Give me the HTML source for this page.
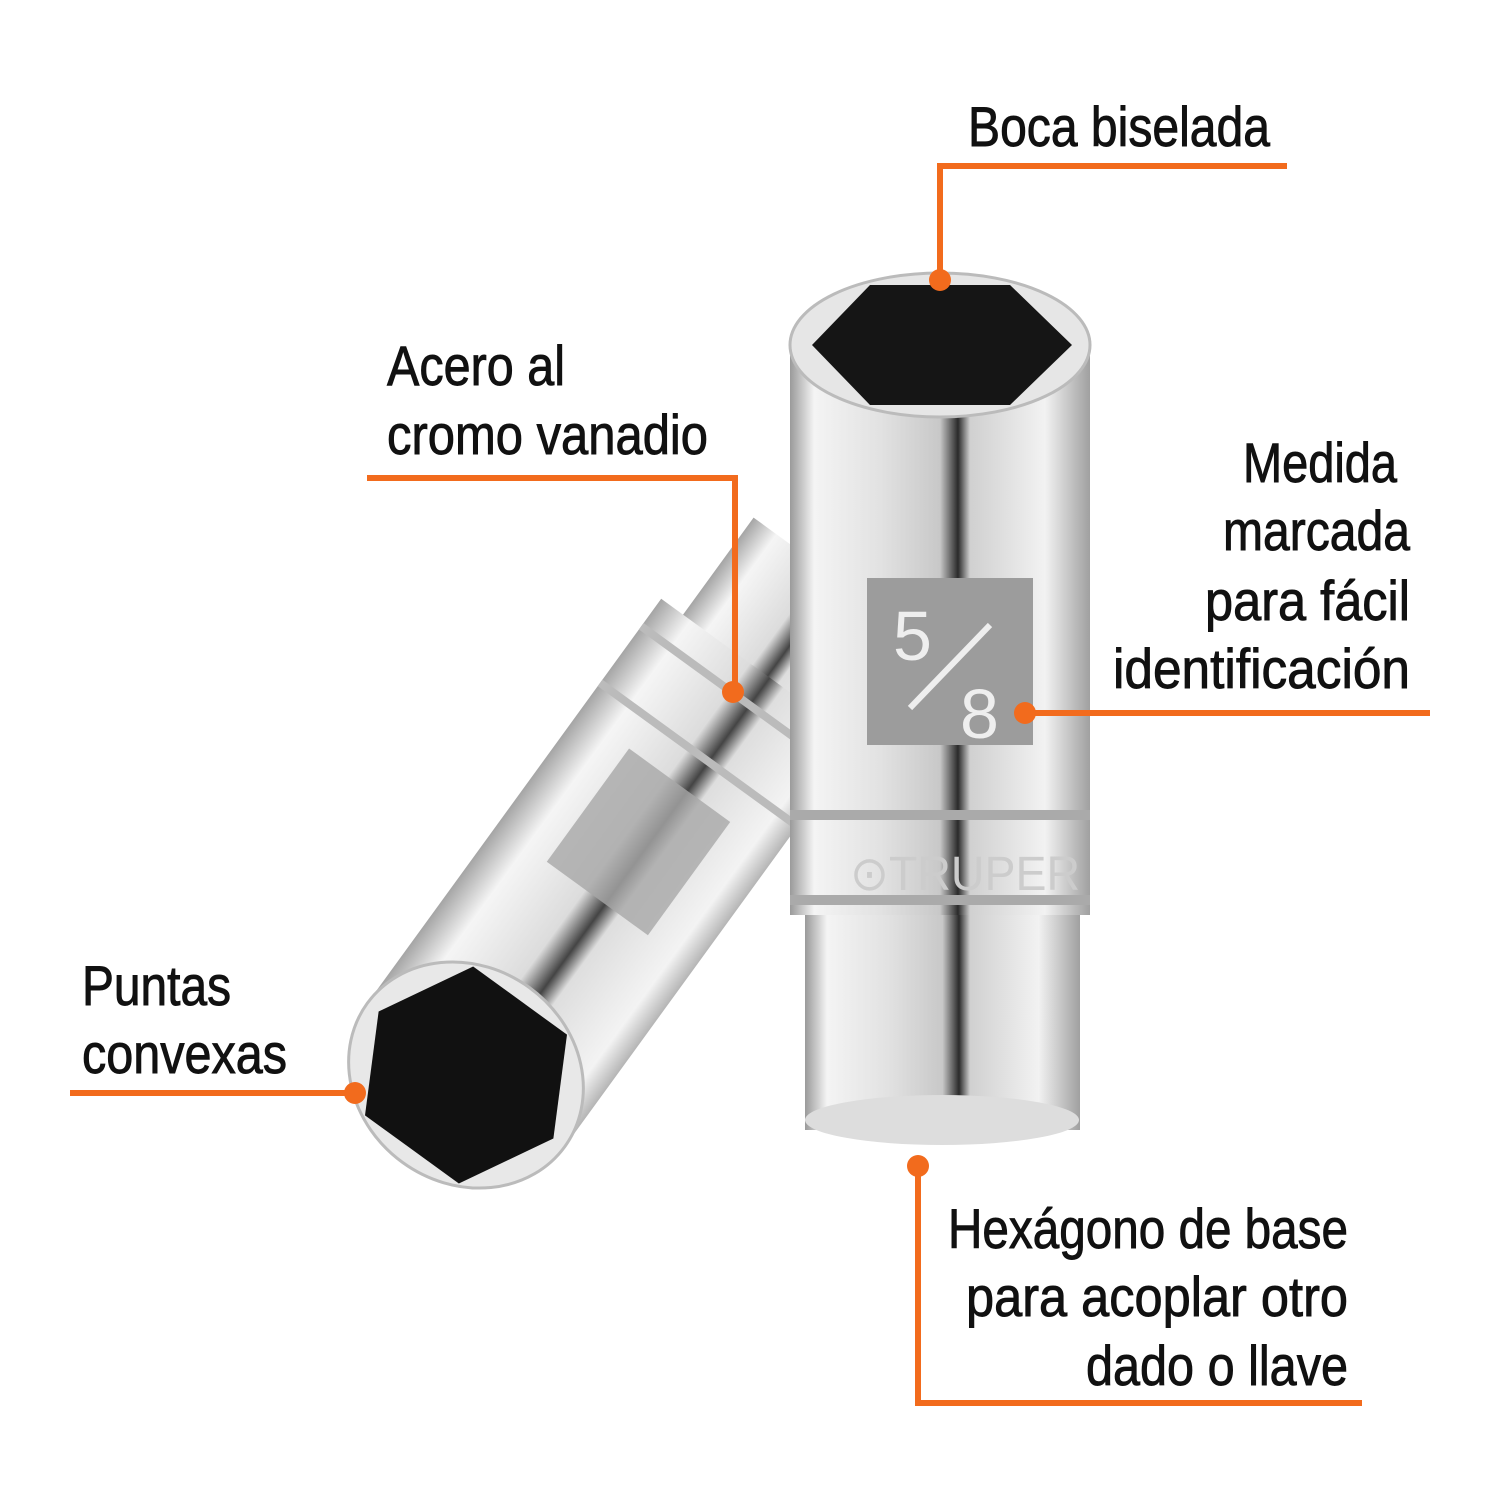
<!DOCTYPE html>
<html><head><meta charset="utf-8"><style>
body{margin:0;background:#fff;width:1500px;height:1500px;overflow:hidden}
svg{position:absolute;left:0;top:0}
text.l{font-family:"Liberation Sans",sans-serif;font-size:56px;fill:#111;stroke:#111;stroke-width:0.9}
</style></head><body>
<svg width="1500" height="1500" viewBox="0 0 1500 1500">
<defs>
<linearGradient id="chr" x1="0" x2="1" y1="0" y2="0">
<stop offset="0" stop-color="#9a9a9a"/><stop offset="0.08" stop-color="#f4f4f4"/>
<stop offset="0.3" stop-color="#e2e2e2"/><stop offset="0.5" stop-color="#c8c8c8"/>
<stop offset="0.56" stop-color="#2a2a2a"/><stop offset="0.6" stop-color="#d0d0d0"/>
<stop offset="0.85" stop-color="#f2f2f2"/><stop offset="1" stop-color="#a0a0a0"/>
</linearGradient>
<linearGradient id="chr2" x1="0" x2="1" y1="0" y2="0">
<stop offset="0" stop-color="#a5a5a5"/><stop offset="0.15" stop-color="#f5f5f5"/>
<stop offset="0.45" stop-color="#dcdcdc"/><stop offset="0.55" stop-color="#444"/>
<stop offset="0.62" stop-color="#dedede"/><stop offset="0.9" stop-color="#f3f3f3"/><stop offset="1" stop-color="#b5b5b5"/>
</linearGradient>
</defs>
<g transform="translate(466,1075) rotate(36)">
<rect x="-95" y="-620" width="190" height="200" fill="url(#chr2)"/>
<rect x="-122" y="-500" width="244" height="500" fill="url(#chr2)"/>
<rect x="-122" y="-470" width="244" height="8" fill="#bbb"/>
<rect x="-122" y="-400" width="244" height="8" fill="#bbb"/>
<rect x="-60" y="-360" width="125" height="140" fill="#a8a8a8" opacity="0.8"/>
<ellipse cx="0" cy="0" rx="122" ry="108" fill="#e8e8e8" stroke="#bbb" stroke-width="3"/>
<polygon points="-108,0 -58,-92 58,-92 108,0 58,92 -58,92" fill="#111"/>
</g>
<rect x="805" y="900" width="275" height="230" fill="url(#chr)"/>
<ellipse cx="942" cy="1120" rx="137" ry="25" fill="#ddd"/>
<rect x="790" y="345" width="300" height="570" fill="url(#chr)"/>
<rect x="790" y="810" width="300" height="10" fill="#aaa"/>
<rect x="790" y="895" width="300" height="10" fill="#aaa"/>
<rect x="867" y="578" width="166" height="167" fill="#9c9c9c"/>
<text x="893" y="660" style="font-family:'Liberation Sans',sans-serif;font-size:70px;fill:#eee">5</text>
<line x1="910" y1="708" x2="990" y2="625" stroke="#eee" stroke-width="6"/>
<text x="960" y="738" style="font-family:'Liberation Sans',sans-serif;font-size:70px;fill:#eee">8</text>
<text x="850" y="890" textLength="230" lengthAdjust="spacingAndGlyphs" style="font-family:'Liberation Sans',sans-serif;font-size:48px;fill:#ccc">⊙TRUPER</text>
<ellipse cx="940" cy="345" rx="150" ry="72" fill="#e6e6e6" stroke="#bbb" stroke-width="3"/>
<polygon points="812,345 870,285 1010,285 1072,345 1010,405 870,405" fill="#151515"/>
<g stroke="#f26b1d" stroke-width="6" fill="none">
<polyline points="1287,166 940,166 940,280"/>
<polyline points="367,478 735,478 735,692"/>
<polyline points="1025,713 1430,713"/>
<polyline points="70,1093 355,1093"/>
<polyline points="918,1166 918,1403 1362,1403"/>
</g>
<g fill="#f26b1d">
<circle cx="940" cy="280" r="11"/><circle cx="733" cy="692" r="11"/>
<circle cx="1025" cy="713" r="11"/><circle cx="355" cy="1093" r="11"/>
<circle cx="918" cy="1166" r="11"/>
</g>
<g>
<text class="l" x="968" y="146" textLength="302" lengthAdjust="spacingAndGlyphs">Boca biselada</text>
<text class="l" x="387" y="385" textLength="178" lengthAdjust="spacingAndGlyphs">Acero al</text>
<text class="l" x="387" y="454" textLength="321" lengthAdjust="spacingAndGlyphs">cromo vanadio</text>
<text class="l" x="1243" y="482" textLength="154" lengthAdjust="spacingAndGlyphs">Medida</text>
<text class="l" x="1223" y="550" textLength="187" lengthAdjust="spacingAndGlyphs">marcada</text>
<text class="l" x="1205" y="620" textLength="205" lengthAdjust="spacingAndGlyphs">para fácil</text>
<text class="l" x="1113" y="688" textLength="297" lengthAdjust="spacingAndGlyphs">identificación</text>
<text class="l" x="82" y="1005" textLength="149" lengthAdjust="spacingAndGlyphs">Puntas</text>
<text class="l" x="82" y="1073" textLength="205" lengthAdjust="spacingAndGlyphs">convexas</text>
<text class="l" x="948" y="1248" textLength="400" lengthAdjust="spacingAndGlyphs">Hexágono de base</text>
<text class="l" x="966" y="1316" textLength="382" lengthAdjust="spacingAndGlyphs">para acoplar otro</text>
<text class="l" x="1086" y="1385" textLength="262" lengthAdjust="spacingAndGlyphs">dado o llave</text>
</g>
</svg>
</body></html>
